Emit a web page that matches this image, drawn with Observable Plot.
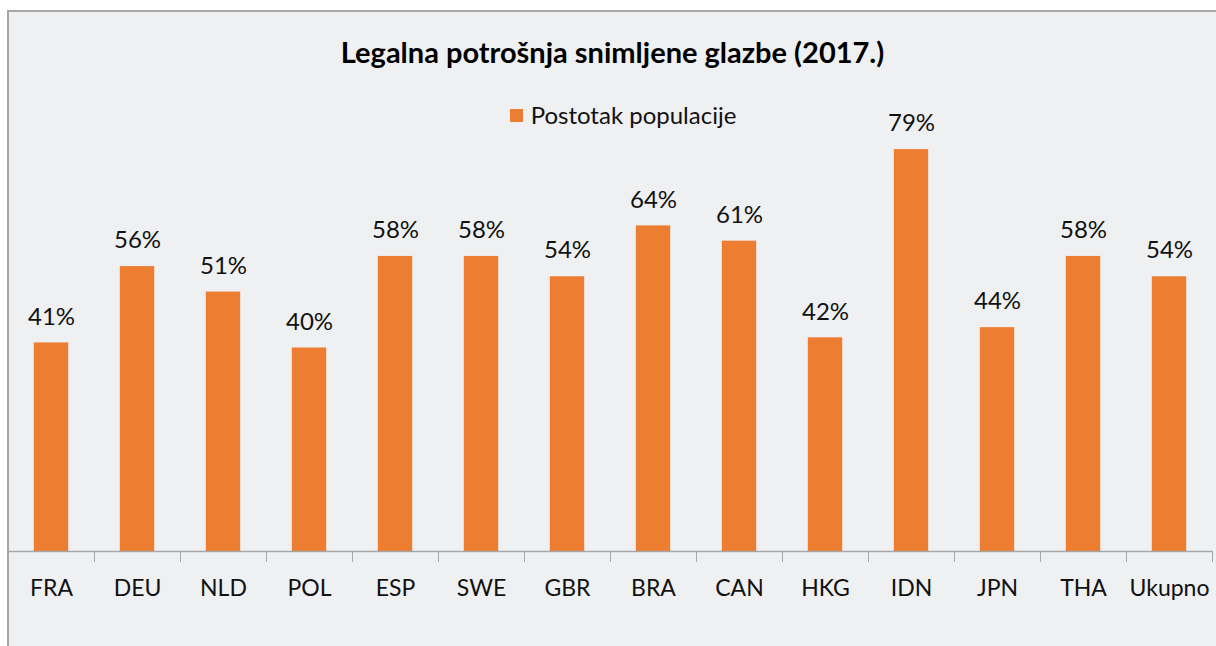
<!DOCTYPE html>
<html>
<head>
<meta charset="utf-8">
<script src="https://cdn.jsdelivr.net/npm/d3@7"></script>
<script src="https://cdn.jsdelivr.net/npm/@observablehq/plot@0.6"></script>
<style>
  html, body { margin: 0; padding: 0; background: #fff; width: 1216px; height: 646px; overflow: hidden; }
  #bg { position: absolute; left: 7px; top: 10px; width: 1215px; height: 650px; background: #EFF0F2;
        border-top: 2px solid #A6A6A6; border-left: 2px solid #A6A6A6; }
  #chart { position: absolute; left: 0; top: 0; }
  #title { position: absolute; left: 9px; right: 0; top: 34px; text-align: center; line-height: 35px;
           font: bold 29px Lato, "Open Sans", sans-serif; color: #000; }
  #legend { position: absolute; left: 0; right: 0; top: 100px; text-align: center; line-height: 29px;
            font: 24px Lato, "Open Sans", sans-serif; color: #111; padding-left: 30px; }
  #legend .sw { display: inline-block; width: 13px; height: 13px; background: #ED7D31; margin-right: 8px; vertical-align: 2px; }
</style>
</head>
<body>
<div id="bg"></div>
<div id="chart"></div>
<div id="title">Legalna potrošnja snimljene glazbe (2017.)</div>
<div id="legend"><span class="sw"></span>Postotak populacije</div>
<script>
const categories = ["FRA", "DEU", "NLD", "POL", "ESP", "SWE", "GBR", "BRA", "CAN", "HKG", "IDN", "JPN", "THA", "Ukupno"];
const values = [41, 56, 51, 40, 58, 58, 54, 64, 61, 42, 79, 44, 58, 54];
const seriesName = "Postotak populacije";

const data = categories.map((c, i) => ({cat: c, value: values[i]}));

const width = 1216, height = 646;
const marginLeft = 8, marginRight = 4, marginTop = 144, marginBottom = 95;
const bw = (width - marginLeft - marginRight) / categories.length;
const font = "Lato, 'Open Sans', sans-serif";

const plot = Plot.plot({
  width, height, marginLeft, marginRight, marginTop, marginBottom,
  style: {background: "transparent", fontFamily: font, color: "#111", overflow: "visible"},
  x: {domain: categories, padding: 0, label: null},
  y: {domain: [0, 80], axis: null},
  marks: [
    Plot.barY(data, {x: "cat", y: "value", fill: "#ED7D31", insetLeft: bw * 0.3, insetRight: bw * 0.3}),
    Plot.text(data, {x: "cat", y: "value", text: d => d.value + "%", dy: -26, fontSize: 24, fill: "#111", lineAnchor: "middle"}),
    Plot.ruleY([0], {stroke: "#A6A6A6", strokeWidth: 1.5}),
    Plot.axisX({tickSize: 0, tickPadding: 28, fontSize: 23, fill: "#111", label: null}),
    Plot.axisX({tickSize: 11, dx: -bw / 2, tickFormat: () => "", stroke: "#A6A6A6", label: null}),
    Plot.axisX({ticks: [categories[categories.length - 1]], tickSize: 11, dx: bw / 2, tickFormat: () => "", stroke: "#A6A6A6", label: null})
  ]
});
document.getElementById("chart").appendChild(plot);
</script>
</body>
</html>
